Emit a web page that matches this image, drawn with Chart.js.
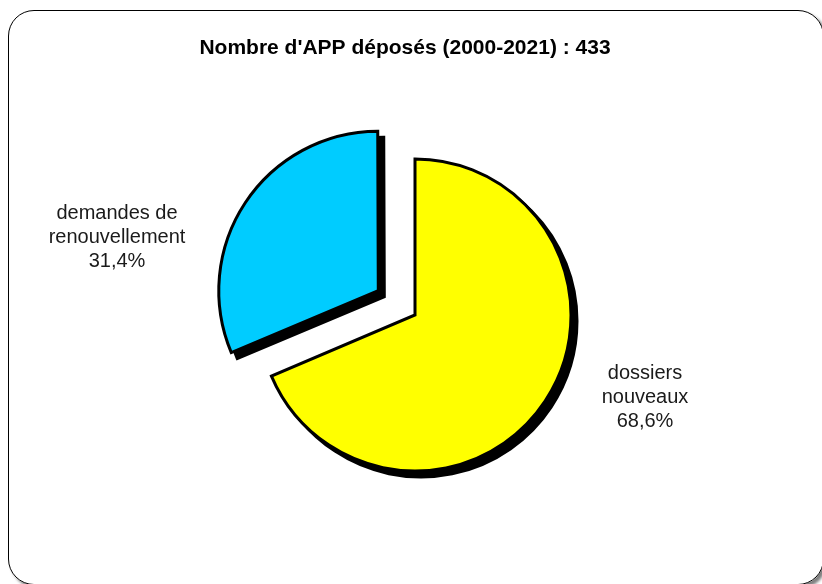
<!DOCTYPE html>
<html>
<head>
<meta charset="utf-8">
<script src="https://cdn.jsdelivr.net/npm/chart.js@4.4.1/dist/chart.umd.min.js"></script>
<style>
  html, body { margin: 0; padding: 0; background: #fff; }
  #cadre {
    position: absolute; left: 8px; top: 10px; width: 816px; height: 575px;
    border: 1.5px solid #000; border-radius: 26px; box-sizing: border-box;
    box-shadow: 3px 3px 3px rgba(0, 0, 0, 0.5);
  }
  #grafico { position: absolute; left: 0; top: 0; }
</style>
</head>
<body>
<div id="cadre"></div>
<canvas id="grafico" width="822" height="584"></canvas>
<script>
// Dados do gráfico
var titulo = "Nombre d'APP déposés (2000-2021) : 433";
var categorias = [['dossiers', 'nouveaux'], ['demandes de', 'renouvellement']];
var valores = [68.6, 31.4];
var rotulos = ['68,6%', '31,4%'];
var cores = ['#FFFF00', '#00CCFF'];

// Sombra preta deslocada, desenhada antes das fatias
var sombraPlugin = {
  id: 'sombra',
  beforeDatasetsDraw: function (chart) {
    var ctx = chart.ctx;
    chart.getDatasetMeta(0).data.forEach(function (arc) {
      var falso = Object.create(arc);
      falso.options = Object.assign({}, arc.options, { backgroundColor: '#000', borderColor: '#000' });
      ctx.save();
      ctx.translate(6, 6);
      arc.draw.call(falso, ctx);
      ctx.restore();
    });
  }
};

// Título e rótulos externos
var textoPlugin = {
  id: 'texto',
  afterDraw: function (chart) {
    var ctx = chart.ctx;
    var meta = chart.getDatasetMeta(0);
    var cx = meta.data[0].x, cy = meta.data[0].y;
    ctx.save();
    ctx.textAlign = 'center';
    ctx.textBaseline = 'middle';
    ctx.fillStyle = '#000';
    ctx.font = 'bold 21px "Liberation Sans", Arial, sans-serif';
    ctx.fillText(titulo, cx - 10, 48);

    // deslocamentos dos blocos de texto em relação ao centro da pizza
    var desloc = [[230, 82], [-298, -78]];
    ctx.font = '20px "Liberation Sans", Arial, sans-serif';
    ctx.fillStyle = '#1a1a1a';
    categorias.forEach(function (linhas, i) {
      var todas = linhas.concat([rotulos[i]]);
      var x = cx + desloc[i][0];
      var y0 = cy + desloc[i][1] - (todas.length - 1) * 12;
      todas.forEach(function (t, k) {
        ctx.fillText(t, x, y0 + k * 24);
      });
    });
    ctx.restore();
  }
};

var ctx = document.getElementById('grafico').getContext('2d');
new Chart(ctx, {
  type: 'pie',
  data: {
    labels: categorias.map(function (c) { return c.join(' '); }),
    datasets: [{
      data: valores,
      backgroundColor: cores,
      borderColor: '#000',
      borderWidth: 3,
      borderJoinStyle: 'miter',
      offset: [0, 176],
      radius: 156
    }]
  },
  options: {
    responsive: false,
    animation: false,
    layout: { padding: { left: 8, right: 0, top: 46, bottom: 0 } },
    plugins: {
      legend: { display: false },
      tooltip: { enabled: false }
    }
  },
  plugins: [sombraPlugin, textoPlugin]
});
</script>
</body>
</html>
